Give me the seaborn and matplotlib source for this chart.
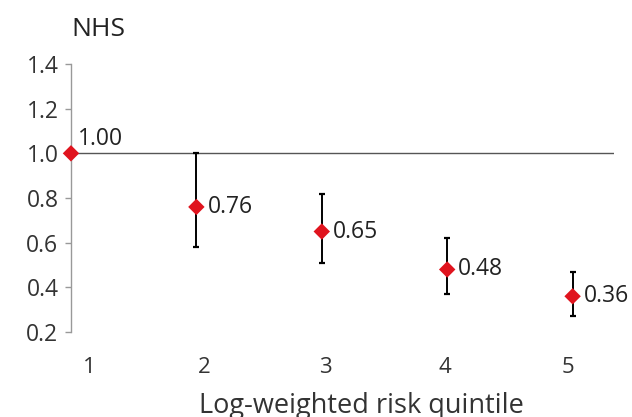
import matplotlib
matplotlib.use("Agg")
import matplotlib.pyplot as plt
import seaborn as sns
import pandas as pd

# Data
quintiles = [1, 2, 3, 4, 5]
hr = [1.00, 0.76, 0.65, 0.48, 0.36]
ci_low = [1.00, 0.58, 0.51, 0.37, 0.27]
ci_high = [1.00, 1.00, 0.82, 0.62, 0.47]
tick_labels = ["1", "2", "3", "4", "5"]

df = pd.DataFrame({"quintile": quintiles, "hr": hr, "lo": ci_low, "hi": ci_high})

sns.set_style("white")
plt.rcParams['font.family'] = ['Open Sans', 'DejaVu Sans']

fig = plt.figure(figsize=(6.32, 4.17), dpi=100)
ax = fig.add_axes([0.1123, 0.2038, 0.8592, 0.6427])

# reference line at 1.0
ax.axhline(1.0, color="#555555", lw=1, zorder=1)

# confidence intervals (skip the reference group)
ci = df[df["quintile"] > 1]
ax.errorbar(ci["quintile"], ci["hr"],
            yerr=[ci["hr"] - ci["lo"], ci["hi"] - ci["hr"]],
            fmt="none", ecolor="black", elinewidth=1.4, capsize=2, capthick=1.6, zorder=2)

sns.scatterplot(data=df, x="quintile", y="hr", marker="D", s=70, color="#e0141e",
                edgecolor="none", ax=ax, zorder=3, clip_on=False)

for q, v in zip(df["quintile"], df["hr"]):
    if q == 1:
        ax.annotate(f"{v:.2f}", (q, v), xytext=(5, 10), textcoords="offset points",
                    ha="left", va="center", fontsize=16.5, color="#222222")
    else:
        ax.annotate(f"{v:.2f}", (q, v), xytext=(8, 0), textcoords="offset points",
                    ha="left", va="center", fontsize=16.5, color="#222222")

ax.set_xlim(1, 5.33)
ax.set_ylim(0.2, 1.4)
ax.set_yticks([0.2, 0.4, 0.6, 0.8, 1.0, 1.2, 1.4])
ax.set_yticklabels([f"{t:.1f}" for t in ax.get_yticks()])

# category labels sit slightly off the points, as in the original
ax.set_xticks([1.15, 2.06, 3.03, 3.98, 4.96])
ax.set_xticklabels(tick_labels)

for s in ["top", "right", "bottom"]:
    ax.spines[s].set_visible(False)
ax.spines["left"].set_color("#999999")
ax.spines["left"].set_linewidth(1)

ax.tick_params(axis="y", left=True, length=4, width=1, color="#999999",
               pad=5, labelsize=16.5, labelcolor="#333333")
ax.tick_params(axis="x", bottom=False, length=0, pad=18, labelsize=16,
               labelcolor="#333333")

ax.set_xlabel("Log-weighted risk quintile", fontsize=19.5, color="#333333")
ax.xaxis.set_label_coords(0.534, -0.225)
ax.xaxis.label.set_va("top")
ax.set_ylabel("")
ax.text(0.0, 1.13, "NHS", transform=ax.transAxes, fontsize=19, color="#222222",
        ha="left", va="center")

fig.savefig("out.png", dpi=100)
